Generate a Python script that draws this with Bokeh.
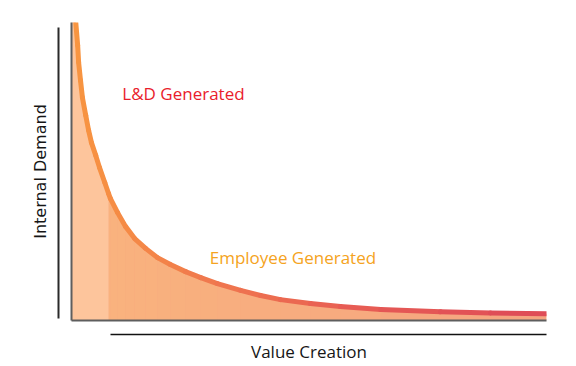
import numpy as np
from bokeh.plotting import figure
from bokeh.models import LinearAxis, FixedTicker, Label, Range1d
from bokeh.embed import file_html
from bokeh.resources import INLINE

# ---- data (Value Creation vs Internal Demand, 0-100 scales)
value_creation = [0.9, 1.3, 1.5, 1.9, 2.3, 3.0, 3.6, 4.2, 5.1, 5.9, 7.0, 7.8, 8.2,
                  9.7, 11.4, 13.3, 15.6, 18.1, 20.8, 24.0, 27.2, 30.7, 35.6, 39.8,
                  44.0, 50.3, 56.6, 65.1, 77.7, 88.2, 100.0]
internal_demand = [100.0, 92.3, 86.6, 80.5, 74.8, 68.8, 63.8, 59.7, 55.4, 51.3, 46.3,
                   42.6, 40.9, 36.2, 31.5, 27.5, 24.2, 21.1, 18.8, 16.4, 14.4, 12.4,
                   10.1, 8.4, 7.0, 5.7, 4.7, 3.7, 2.9, 2.5, 2.3]
ld_band_end = 7.8          # end of the lighter "L&D" band on the value axis
value_line_start = 8.2     # start of the lower value-creation rule
demand_line_bounds = (0.7, 98.3)

annotations = ["L&D Generated", "Employee Generated"]
annotation_x = [10.7, 29.1]
annotation_y = [76.2, 21.1]
annotation_colors = ["#e91c2b", "#f5a321"]

# ---- styles
line_stops_x = [0, 30, 60, 100]
line_stops_rgb = [(248, 150, 64), (240, 120, 78), (231, 92, 84), (222, 74, 88)]
fill_stops_x = [ld_band_end, 100]
fill_stops_rgb = [(249, 178, 126), (245, 164, 128)]


def lerp_color(x, xs, rgbs):
    r = np.interp(x, xs, [c[0] for c in rgbs])
    g = np.interp(x, xs, [c[1] for c in rgbs])
    b = np.interp(x, xs, [c[2] for c in rgbs])
    return "#%02x%02x%02x" % (int(round(r)), int(round(g)), int(round(b)))


vc = np.array(value_creation)
dem = np.array(internal_demand)
n = len(vc)
k = int(np.where(vc == ld_band_end)[0][0])

p = figure(width=576, height=366, x_range=Range1d(0, 100), y_range=Range1d(0, 100),
           output_backend="svg", toolbar_location=None,
           x_axis_location=None, y_axis_location=None,
           min_border_left=71, min_border_right=30, min_border_top=22, min_border_bottom=46)
p.grid.visible = False
p.outline_line_color = None
p.background_fill_color = "white"
p.border_fill_color = "white"


def make_axis(gap=0, **kw):
    # an invisible tick (length = gap) pushes the next axis outward
    ticks = [50] if gap else []
    return LinearAxis(ticker=FixedTicker(ticks=ticks), major_tick_line_color=None,
                      minor_tick_line_color=None, major_label_text_font_size="0px",
                      major_label_overrides={50: ""}, major_label_standoff=0,
                      major_tick_in=0, major_tick_out=gap, minor_tick_in=0,
                      minor_tick_out=0, **kw)


inner_x = make_axis(gap=14, axis_line_color="#5e5e5e", axis_line_width=2)
p.add_layout(inner_x, "below")
outer_x = make_axis(axis_line_color="#111111", axis_line_width=1.5,
                    bounds=(value_line_start, 100))
p.add_layout(outer_x, "below")
label_x = make_axis(axis_line_color=None, axis_label="Value Creation",
                    axis_label_text_font="Open Sans", axis_label_text_font_size="17px",
                    axis_label_text_font_style="normal", axis_label_text_color="#161616",
                    axis_label_standoff=5)
p.add_layout(label_x, "below")

inner_y = make_axis(gap=13, axis_line_color="#5e5e5e", axis_line_width=2)
p.add_layout(inner_y, "left")
outer_y = make_axis(axis_line_color="#2a2a2a", axis_line_width=2,
                    bounds=demand_line_bounds, axis_label="Internal Demand",
                    axis_label_text_font="DejaVu Sans", axis_label_text_font_size="16px",
                    axis_label_text_font_style="normal", axis_label_text_color="#161616",
                    axis_label_standoff=9)
p.add_layout(outer_y, "left")

# ---- area fill
fx = np.concatenate([[0.0], vc])
fy = np.concatenate([[dem[0]], dem])
p.varea(x=fx, y1=np.zeros(len(fx)), y2=fy, fill_color="#f7ab80")
for i in range(k, n - 1):
    p.varea(x=[vc[i], vc[i + 1]], y1=[0, 0], y2=[dem[i], dem[i + 1]],
            fill_color=lerp_color((vc[i] + vc[i + 1]) / 2, fill_stops_x, fill_stops_rgb))
p.varea(x=fx[:k + 2], y1=np.zeros(k + 2), y2=fy[:k + 2], fill_color="#fdc59c")

# ---- curve with colour gradient
xs = [[vc[i], vc[i + 1]] for i in range(n - 1)]
ys = [[dem[i], dem[i + 1]] for i in range(n - 1)]
cols = [lerp_color((vc[i] + vc[i + 1]) / 2, line_stops_x, line_stops_rgb) for i in range(n - 1)]
p.multi_line(xs=xs, ys=ys, line_color=cols, line_width=5, line_cap="round", line_join="round")

for t, x, y, c in zip(annotations, annotation_x, annotation_y, annotation_colors):
    p.add_layout(Label(x=x, y=y, text=t, text_color=c, text_font="Open Sans",
                       text_font_size="17px", text_baseline="middle", text_align="left"))

open("out.html", "w").write(file_html(p, INLINE))
